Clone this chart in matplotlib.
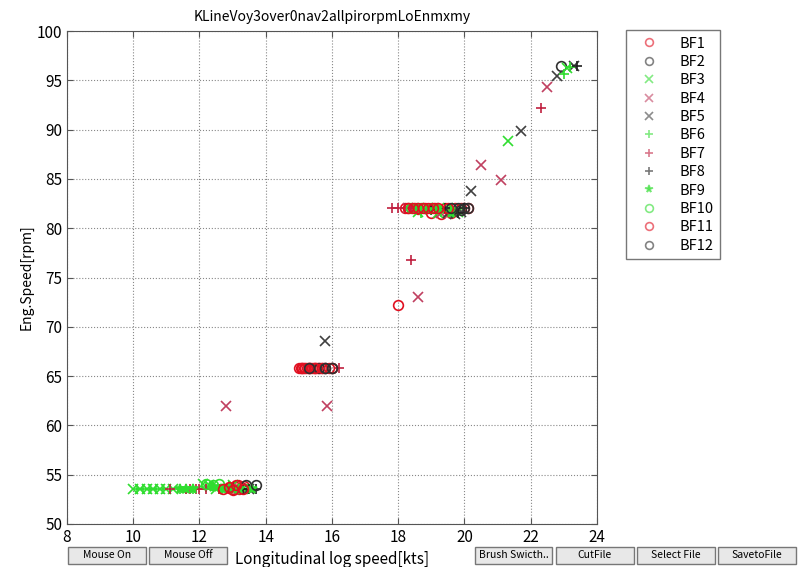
import matplotlib
matplotlib.use('agg')
import matplotlib.pyplot as plt
from matplotlib.patches import Rectangle

plt.rcParams['font.family'] = ['Noto Sans CJK JP', 'DejaVu Sans']

# log speed [kts] / engine speed [rpm] per beaufort class
bf1_x = [12.9, 13.0, 13.1, 13.15, 13.2, 13.3, 13.35,
         15.0, 15.05, 15.1, 15.15, 15.2, 15.25, 15.3, 15.35, 15.4, 15.45, 15.5, 15.55, 15.6, 15.7, 15.8,
         18.0,
         18.2, 18.3, 18.5, 18.6, 18.8, 19.0, 19.1, 19.3, 19.4, 19.6, 19.7, 19.9, 20.0, 20.1]
bf1_y = [53.7, 53.6, 53.8, 54.0, 53.5, 53.7, 53.9,
         65.8, 65.8, 65.8, 65.8, 65.8, 65.8, 65.8, 65.8, 65.8, 65.8, 65.8, 65.8, 65.8, 65.8, 65.8,
         72.2,
         82.0, 82.0, 82.0, 81.9, 82.0, 81.5, 82.0, 81.4, 82.0, 81.5, 82.0, 82.0, 82.0, 82.0]
bf2_x = [13.4, 15.6, 15.8, 16.0, 19.8, 20.0, 22.9]
bf2_y = [54.0, 65.8, 65.8, 65.8, 82.0, 82.0, 96.5]
bf3_x = [10.0, 10.2, 10.4, 10.6, 10.8, 11.0, 11.2, 12.1, 12.3, 12.5, 12.8, 13.0, 13.3,
         18.6, 18.9, 19.2, 19.5, 19.8, 21.3, 23.1]
bf3_y = [53.5, 53.5, 53.5, 53.5, 53.5, 53.5, 53.5, 54.1, 54.0, 53.6, 53.5, 54.0, 53.5,
         81.6, 82.0, 81.5, 82.0, 81.6, 88.8, 96.2]
bf4_x = [12.8, 13.2, 15.85, 18.3, 18.6, 19.3, 20.5, 21.1, 22.5]
bf4_y = [62.0, 53.5, 62.0, 82.0, 73.0, 81.5, 86.4, 84.9, 94.3]
bf5_x = [13.5, 15.8, 19.5, 19.7, 19.9, 20.2, 21.7, 22.8, 23.3]
bf5_y = [53.5, 68.6, 81.5, 81.4, 81.6, 83.8, 89.9, 95.4, 96.5]
bf6_x = [10.1, 10.3, 10.5, 10.7, 10.9, 11.4, 11.6, 11.8, 12.2, 12.6, 12.9, 13.2, 13.5,
         18.5, 18.7, 19.0, 19.3, 19.6, 23.0, 23.2]
bf6_y = [53.5, 53.5, 53.5, 53.5, 53.5, 53.5, 53.5, 53.5, 53.8, 53.5, 53.9, 53.6, 53.5,
         82.0, 81.5, 82.0, 81.6, 82.0, 95.6, 96.3]
bf7_x = [11.1, 11.6, 11.7, 11.9, 12.0, 12.2, 12.6, 16.2, 17.8, 18.0, 18.2, 18.4, 18.4, 19.0, 22.3]
bf7_y = [53.5, 53.5, 53.5, 53.5, 53.5, 53.5, 53.5, 65.8, 82.0, 82.0, 82.0, 82.0, 76.8, 82.0, 92.2]
bf8_x = [13.0, 13.3, 13.5, 13.7, 19.0, 19.4, 19.8, 20.0, 23.4]
bf8_y = [53.8, 53.5, 53.6, 53.5, 81.8, 82.0, 81.5, 82.0, 96.4]
bf9_x = [11.4, 11.6, 11.8, 12.4, 12.7, 13.0, 13.2, 13.6, 18.6, 18.9, 19.2, 19.6]
bf9_y = [53.5, 53.5, 53.5, 53.8, 53.5, 53.6, 53.5, 53.5, 82.0, 81.8, 82.0, 81.5]
bf10_x = [12.2, 12.4, 12.6, 18.4, 18.7, 19.0]
bf10_y = [54.1, 54.0, 54.1, 82.0, 82.0, 82.0]
bf11_x = [12.7, 12.9, 13.0, 13.1, 13.3, 15.1, 15.3, 15.5, 15.7, 15.9, 16.0,
          18.3, 18.45, 18.6, 18.75, 18.9, 19.05, 19.2, 19.5]
bf11_y = [53.6, 53.8, 53.4, 54.0, 53.5, 65.8, 65.8, 65.8, 65.8, 65.8, 65.8,
          82.0, 82.0, 82.0, 82.0, 82.0, 82.0, 82.0, 82.0]
bf12_x = [13.7, 15.3, 15.8, 16.0, 19.6, 19.9, 20.1]
bf12_y = [54.0, 65.8, 65.8, 65.8, 82.0, 81.8, 82.0]

xs = [bf1_x, bf2_x, bf3_x, bf4_x, bf5_x, bf6_x, bf7_x, bf8_x, bf9_x, bf10_x, bf11_x, bf12_x]
ys = [bf1_y, bf2_y, bf3_y, bf4_y, bf5_y, bf6_y, bf7_y, bf8_y, bf9_y, bf10_y, bf11_y, bf12_y]
labels = ['BF%d' % (i + 1) for i in range(12)]
markers = ['o', 'o', 'x', 'x', 'x', '+', '+', '+', '*', 'o', 'o', 'o']
colors = ['#e01020', '#303030', '#30dd30', '#c04060', '#404040', '#30dd30',
          '#c02040', '#202020', '#30dd30', '#30dd30', '#e01020', '#303030']

buttons_l = ['Mouse On', 'Mouse Off']
buttons_r = ['Brush Swicth..', 'CutFile', 'Select File', 'SavetoFile']

W, H = 803, 567
fig = plt.figure(figsize=(W / 100.0, H / 100.0), dpi=100)
ax = fig.add_axes([67.0 / W, 1 - 524.0 / H, 530.0 / W, 493.0 / H])

for i in range(12):
    ax.plot(xs[i], ys[i], linestyle='none', marker=markers[i], color=colors[i],
            markerfacecolor='none' if markers[i] == 'o' else colors[i],
            markersize=7, markeredgewidth=1.2, label=labels[i])

ax.set_xlim(8, 24)
ax.set_ylim(50, 100)
ax.set_xticks(range(8, 25, 2))
ax.set_yticks(range(50, 101, 5))
ax.grid(True, linestyle=':', color='#888888', linewidth=0.8)
ax.tick_params(direction='in', top=True, right=True, labelsize=11, length=4, color='#555555')
for s in ax.spines.values():
    s.set_color('#555555')
ax.set_title('KLineVoy3over0nav2allpirorpmLoEnmxmy', fontsize=10, pad=7)
ax.set_xlabel('Longitudinal log speed[kts]', fontsize=11, labelpad=4)
ax.set_ylabel('Eng.Speed[rpm]', fontsize=10, labelpad=2)

leg = fig.legend(loc='upper left', bbox_to_anchor=(626.0 / W, 1 - 30.0 / H), fontsize=10.5,
                 frameon=True, fancybox=False, edgecolor='#555555', borderpad=0.45,
                 labelspacing=0.3, handlelength=2.2, handletextpad=1.0,
                 borderaxespad=0.0, markerscale=0.8)
for h in leg.legend_handles:
    h.set_alpha(0.6)

# push buttons along the bottom
def button(x0, x1, text):
    fig.patches.append(Rectangle((x0 / W, 3.0 / H), (x1 - x0) / W, 17.0 / H,
                                 transform=fig.transFigure, facecolor='#e8e8e8',
                                 edgecolor='#777777', linewidth=1.0))
    fig.text((x0 + x1) / 2.0 / W, 11.5 / H, text, ha='center', va='center', fontsize=7.5)

for (x0, x1), t in zip([(68, 146), (149, 227)], buttons_l):
    button(x0, x1, t)
for (x0, x1), t in zip([(475, 552), (556, 634), (637, 715), (718, 796)], buttons_r):
    button(x0, x1, t)

fig.savefig('out.png', dpi=100)
